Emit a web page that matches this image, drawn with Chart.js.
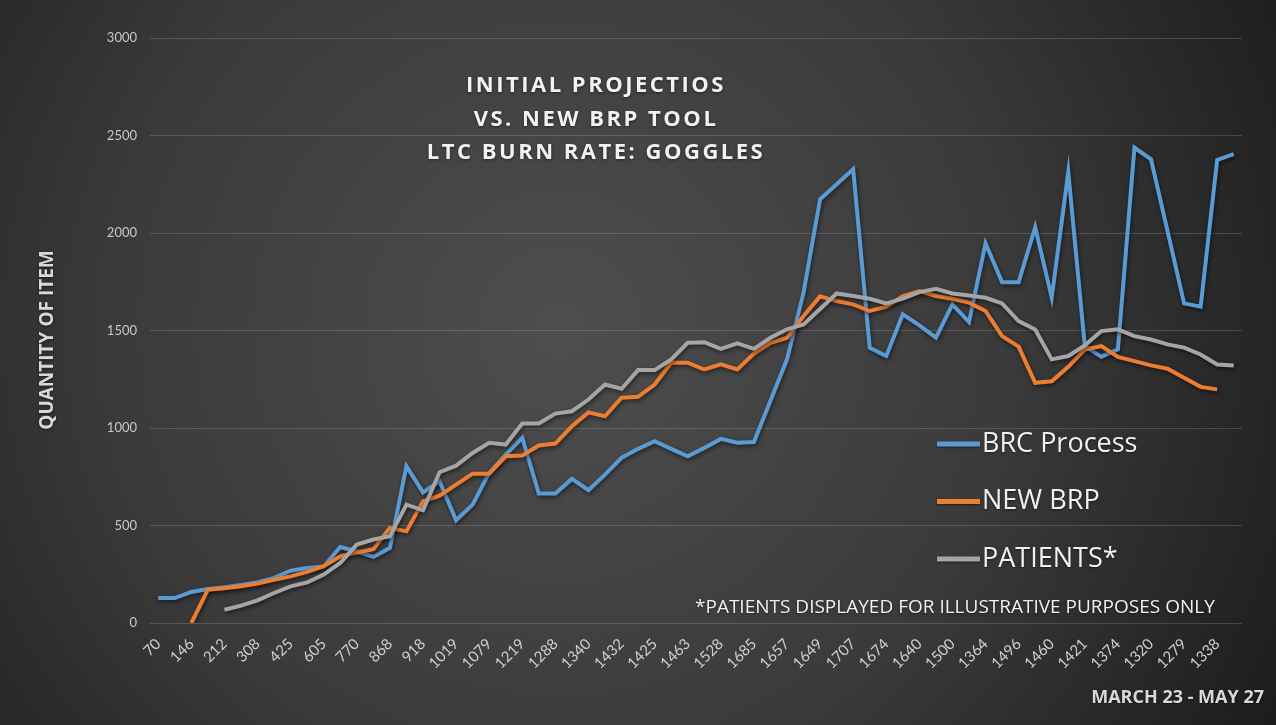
<!DOCTYPE html>
<html>
<head>
<meta charset="utf-8">
<script src="https://cdn.jsdelivr.net/npm/chart.js@4.4.1/dist/chart.umd.min.js"></script>
<style>
  body { margin: 0; background: #2a2a2a; }
  #wrap { width: 1276px; height: 725px; }
</style>
</head>
<body>
<div id="wrap"><canvas id="myChart" width="1276" height="725"></canvas></div>
<script>
    // category labels (only every other one is printed on the axis)
    var dayLabels = [70, 108, 146, 180, 212, 262, 308, 371, 425, 520,
        605, 688, 770, 815, 868, 890, 918, 974, 1019, 1046,
        1079, 1150, 1219, 1251, 1288, 1315, 1340, 1391, 1432, 1428,
        1425, 1447, 1463, 1497, 1528, 1604, 1685, 1671, 1657, 1652,
        1649, 1680, 1707, 1690, 1674, 1655, 1640, 1568, 1500, 1430,
        1364, 1430, 1496, 1477, 1460, 1441, 1421, 1398, 1374, 1345,
        1320, 1301, 1279, 1310, 1338, 1352];

    var brcProcess = [128, 128, 159, 174, 184, 195, 209, 231, 268, 282,
        290, 390, 368, 339, 385, 804, 670, 727, 527, 607,
        770, 864, 950, 664, 664, 739, 681, 761, 847, 893,
        932, 893, 855, 898, 944, 924, 928, 1140, 1352, 1694,
        2173, 2250, 2327, 1412, 1369, 1583, 1526, 1463, 1634, 1543,
        1947, 1748, 1748, 2030, 1668, 2313, 1420, 1365, 1403, 2438,
        2378, 2010, 1639, 1622, 2375, 2404];

    var newBrp = [null, null, 0, 171, 178, 188, 202, 222, 239, 262,
        291, 342, 362, 378, 488, 470, 624, 653, 710, 766,
        766, 855, 859, 910, 920, 1009, 1080, 1060, 1155, 1160,
        1223, 1335, 1335, 1300, 1326, 1300, 1382, 1437, 1463, 1574,
        1675, 1651, 1634, 1600, 1622, 1677, 1702, 1677, 1663, 1643,
        1600, 1471, 1417, 1232, 1240, 1314, 1403, 1420, 1365, 1343,
        1321, 1304, 1258, 1211, 1198, null];

    var patients = [null, null, null, null, 68, 89, 116, 154, 188, 208,
        248, 308, 402, 428, 445, 607, 578, 773, 807, 872,
        924, 915, 1023, 1023, 1074, 1086, 1146, 1223, 1201, 1297,
        1297, 1352, 1437, 1440, 1406, 1434, 1406, 1463, 1506, 1531,
        1610, 1690, 1677, 1663, 1639, 1663, 1697, 1714, 1690, 1680,
        1668, 1639, 1548, 1505, 1352, 1369, 1424, 1497, 1506, 1471,
        1454, 1429, 1412, 1377, 1326, 1321];

    var titleLines = ["INITIAL PROJECTIOS", "VS. NEW BRP TOOL", "LTC BURN RATE: GOGGLES"];


    // background, titles, notes and the legend box
    var decor = {
        id: 'decor',
        beforeDraw: function(chart) {
            var c = chart.ctx;
            var g = c.createRadialGradient(560, 330, 0, 560, 330, 820);
            g.addColorStop(0, '#4e4e4e');
            g.addColorStop(0.55, '#3a3a3a');
            g.addColorStop(1, '#1c1c1c');
            c.save();
            c.fillStyle = g;
            c.fillRect(0, 0, chart.width, chart.height);
            c.restore();
        },
        beforeDatasetsDraw: function(chart) {
            var c = chart.ctx;
            c.save();
            c.shadowColor = 'rgba(0,0,0,0.55)';
            c.shadowBlur = 4;
            c.shadowOffsetX = 1;
            c.shadowOffsetY = 2;
        },
        afterDatasetsDraw: function(chart) {
            chart.ctx.restore();
        },
        afterDraw: function(chart) {
            var c = chart.ctx;
            c.save();

            // title block
            c.shadowColor = 'rgba(0,0,0,0.5)';
            c.shadowBlur = 3;
            c.shadowOffsetY = 1;
            c.fillStyle = '#f2f2f2';
            c.font = 'bold 22px "Open Sans"';
            c.letterSpacing = '2.5px';
            c.textAlign = 'center';
            c.textBaseline = 'alphabetic';
            for (var i = 0; i < titleLines.length; i++) {
                c.fillText(titleLines[i], 596, 92 + i * 33.7);
            }
            c.letterSpacing = '0px';

            // y title
            c.save();
            c.translate(48, 340);
            c.rotate(-Math.PI / 2);
            c.font = 'bold 19px "Open Sans"';
            c.fillStyle = '#d9d9d9';
            c.textBaseline = 'middle';
            c.fillText('QUANTITY OF ITEM', 0, 0);
            c.restore();

            // legend
            var ds = chart.data.datasets;
            c.shadowBlur = 2;
            c.textAlign = 'left';
            c.textBaseline = 'middle';
            c.font = '27px "Open Sans"';
            for (var j = 0; j < ds.length; j++) {
                var y = 444 + j * 57.5;
                c.strokeStyle = ds[j].borderColor;
                c.lineWidth = 5;
                c.beginPath();
                c.moveTo(937, y);
                c.lineTo(980, y);
                c.stroke();
                c.fillStyle = '#f2f2f2';
                c.fillText(ds[j].label, 982, y);
            }

            // footnote and date range
            c.font = '19px "Open Sans"';
            c.fillText('*PATIENTS DISPLAYED FOR ILLUSTRATIVE PURPOSES ONLY', 695, 608);
            c.font = 'bold 18px "Open Sans"';
            c.fillStyle = '#d9d9d9';
            c.textAlign = 'right';
            c.fillText('MARCH 23 - MAY 27', 1264, 698);
            c.restore();
        }
    };


    // Create the burn rate chart
    const ctx = document.getElementById('myChart');
    new Chart(ctx, {
        type: 'line',
        data: {
            labels: dayLabels,
            datasets: [{
                label: 'BRC Process',
                data: brcProcess,
                borderColor: '#5b9bd5',
                borderWidth: 4,
                pointRadius: 0,
                order: 3,
            }, {
                label: 'NEW BRP',
                data: newBrp,
                borderColor: '#ed7d31',
                borderWidth: 4,
                pointRadius: 0,
                order: 2,
            }, {
                label: 'PATIENTS*',
                data: patients,
                borderColor: '#a5a5a5',
                borderWidth: 4,
                pointRadius: 0,
                order: 1,
            }]
        },
        options: {
            responsive: false,
            animation: false,
            layout: {
                padding: { left: 0, right: 34, top: 38, bottom: 0 }
            },
            plugins: {
                legend: { display: false },
                tooltip: { enabled: false }
            },
            scales: {
                x: {
                    offset: true,
                    grid: { display: false },
                    border: { display: false },
                    ticks: {
                        autoSkip: false,
                        maxRotation: 45,
                        minRotation: 45,
                        padding: 4,
                        color: '#d0d0d0',
                        font: { family: 'Lato', size: 15 },
                        callback: function(val, idx) {
                            return idx % 2 === 0 ? String(dayLabels[idx]) : '';
                        }
                    },
                    afterFit: function(scale) { scale.height = 102; }
                },
                y: {
                    min: 0,
                    max: 3000,
                    grid: { color: 'rgba(255,255,255,0.16)', drawTicks: false },
                    border: { display: false },
                    ticks: {
                        stepSize: 500,
                        padding: 13,
                        color: '#c8c8c8',
                        font: { family: 'Lato', size: 13 },
                        callback: function(val) { return String(val); }
                    },
                    afterFit: function(scale) { scale.width = 150; }
                }
            }
        },
        plugins: [decor]
    });
</script>
</body>
</html>
